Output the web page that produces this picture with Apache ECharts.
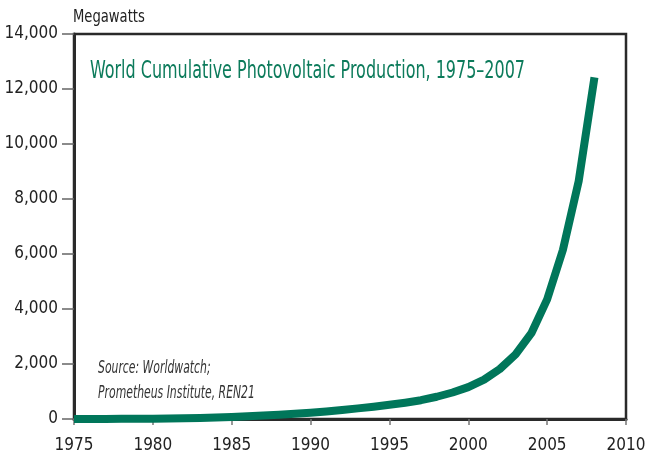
<!DOCTYPE html>
<html>
<head>
<meta charset="utf-8">
<script src="https://cdn.jsdelivr.net/npm/echarts@6/dist/echarts.min.js"></script>
<style>
html,body{margin:0;padding:0;background:#fff;}
#c{width:652px;height:459px;}
</style>
</head>
<body>
<div id="c"></div>
<script>
var years = [1975,1976,1977,1978,1979,1980,1981,1982,1983,1984,1985,1986,1987,1988,1989,1990,1991,1992,1993,1994,1995,1996,1997,1998,1999,2000,2001,2002,2003,2004,2005,2006,2007,2008];
var megawatts = [0,2,4,6,9,13,20,28,37,54,76,99,125,154,188,228,274,329,387,447,516,594,683,809,964,1160,1430,1820,2350,3120,4350,6150,8650,12420];
var yTicks = [0,2000,4000,6000,8000,10000,12000,14000];
var xTicks = [1975,1980,1985,1990,1995,2000,2005,2010];

var chart = echarts.init(document.getElementById('c'));
var font = '"Liberation Sans Narrow","DejaVu Sans Condensed",sans-serif';
chart.setOption({
  animation:false,
  grid:{left:74,right:26,top:34,bottom:40,show:true,borderColor:'#2a2a2a',borderWidth:2.5,backgroundColor:'transparent'},
  graphic:[
    {type:'text',x:73,y:9,scaleX:0.86,style:{text:'Megawatts',font:'17px '+font,fill:'#222'}},
    {type:'text',x:90,y:60,scaleX:0.74,style:{text:'World Cumulative Photovoltaic Production, 1975\u20132007',font:'24px '+font,fill:'#0c7b5b'}},
    {type:'text',x:98,y:359,scaleX:0.67,style:{text:'Source: Worldwatch;',font:'italic 18px '+font,fill:'#333'}},
    {type:'text',x:98,y:384,scaleX:0.67,style:{text:'Prometheus Institute, REN21',font:'italic 18px '+font,fill:'#333'}}
  ],
  xAxis:{type:'value',min:1975,max:2010,interval:5,
    axisLine:{show:true,lineStyle:{color:'#2a2a2a',width:3}},
    axisTick:{show:true,length:6,lineStyle:{color:'#777',width:1.5}},
    axisLabel:{color:'#222',fontSize:17,fontFamily:font,margin:18,formatter:function(v){return String(v);}},
    splitLine:{show:false}},
  yAxis:{type:'value',min:0,max:14000,interval:2000,
    axisLine:{show:true,lineStyle:{color:'#2a2a2a',width:3}},
    axisTick:{show:true,length:12,lineStyle:{color:'#666',width:1.5}},
    axisLabel:{color:'#222',fontSize:17,fontFamily:font,margin:16,formatter:function(v){return v.toLocaleString('en-US');}},
    splitLine:{show:false}},
  series:[{type:'line',data:years.map(function(y,i){return [y,megawatts[i]];}),
    showSymbol:false,symbol:'none',smooth:false,
    lineStyle:{color:'#00765a',width:8,cap:'butt',join:'round'},z:3}]
});
</script>
</body>
</html>
